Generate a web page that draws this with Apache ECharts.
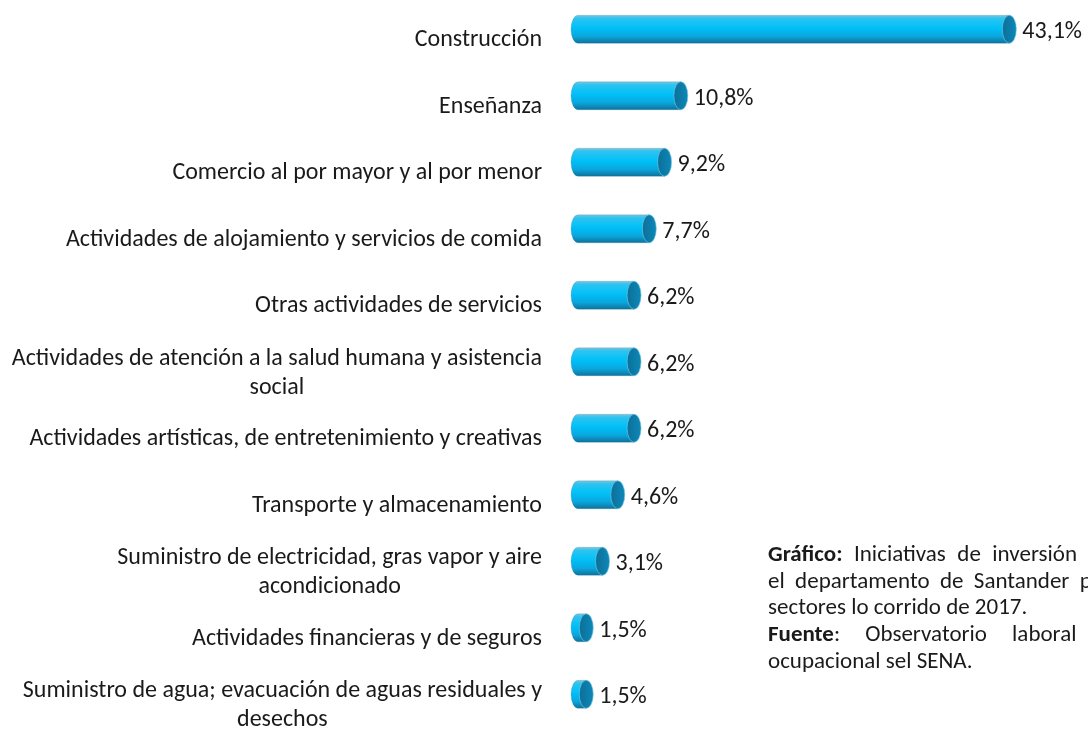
<!DOCTYPE html>
<html><head><meta charset="utf-8">
<script src="https://cdn.jsdelivr.net/npm/echarts@6/dist/echarts.min.js"></script>
<style>html,body{margin:0;padding:0;background:#fff;overflow:hidden}#c{width:1088px;height:732px}</style>
</head><body><div id="c"></div>
<script>
const categories = [
  "Construcción",
  "Enseñanza",
  "Comercio al por mayor y al por menor",
  "Actividades de alojamiento y servicios de comida",
  "Otras actividades de servicios",
  "Actividades de atención a la salud humana y asistencia\nsocial",
  "Actividades artísticas, de entretenimiento y creativas",
  "Transporte y almacenamiento",
  "Suministro de electricidad, gras vapor y aire\nacondicionado",
  "Actividades financieras y de seguros",
  "Suministro de agua; evacuación de aguas residuales y\ndesechos"
];
const values = [43.1, 10.8, 9.2, 7.7, 6.2, 6.2, 6.2, 4.6, 3.1, 1.5, 1.5];
const captionLines = [
  {justify:true, words:[{t:"Gráfico:", b:true}, {t:"Iniciativas"}, {t:"de"}, {t:"inversión"}, {t:"en"}]},
  {justify:true, words:[{t:"el"}, {t:"departamento"}, {t:"de"}, {t:"Santander"}, {t:"por"}]},
  {justify:false, words:[{t:"sectores lo corrido de 2017."}]},
  {justify:true, words:[{t:"Fuente", b:true, tail:":"}, {t:"Observatorio"}, {t:"laboral"}, {t:"y"}]},
  {justify:false, words:[{t:"ocupacional sel SENA."}]}
];

const FONT = 'Carlito, Lato, "Liberation Sans", sans-serif';
const FS = 24;
const CFS = 23;
const chart = echarts.init(document.getElementById('c'), null, {renderer:'canvas'});
const fmt = v => v.toFixed(1).replace('.', ',') + '%';

function renderItem(params, api){
  const v = api.value(0), cat = api.value(1);
  const s = api.coord([0, cat]);
  const e = api.coord([v, cat]);
  const h = 28, rx = 7;
  const cy = s[1] - 4;
  const y0 = cy - h/2, y1 = cy + h/2;
  const x0 = s[0], x1 = e[0];
  const bodyPath = `M${x0+rx},${y0} L${x1},${y0} L${x1},${y1} L${x0+rx},${y1} A${rx},${h/2} 0 0 1 ${x0+rx},${y0} Z`;
  const capPath = `M${x1},${y0} A${rx},${h/2} 0 0 1 ${x1},${y1} A${rx},${h/2} 0 0 1 ${x1},${y0} Z`;
  const bodyGrad = new echarts.graphic.LinearGradient(0,0,0,1,[
    {offset:0, color:'#86c3d8'},
    {offset:0.12, color:'#2cc4f0'},
    {offset:0.45, color:'#00c0f8'},
    {offset:0.75, color:'#0aa6dc'},
    {offset:1, color:'#0e6f97'}
  ]);
  const capGrad = new echarts.graphic.LinearGradient(0,0,1,0,[
    {offset:0, color:'#0b6f98'},
    {offset:1, color:'#0e88b8'}
  ]);
  return {
    type:'group',
    children:[
      {type:'path', shape:{pathData: bodyPath}, style:{fill: bodyGrad, stroke:'rgba(40,120,160,0.35)', lineWidth:0.6}},
      {type:'path', shape:{pathData: capPath}, style:{fill: capGrad, stroke:'rgba(120,200,230,0.8)', lineWidth:0.8}},
      {type:'text', x: x1 + rx + 6, y: cy + 3, style:{text: fmt(v), fill:'#1a1a1a', fontSize: FS, fontFamily: FONT, verticalAlign:'middle', align:'left'}}
    ]
  };
}

// caption layout (justified paragraph, clipped at the window edge)
const ctx = document.createElement('canvas').getContext('2d');
function tw(str, bold){ ctx.font = (bold ? 'bold ' : '') + CFS + 'px ' + FONT; return ctx.measureText(str).width; }
const PX = 768, PR = 1112;
const lineY = [555, 582, 608, 635, 662];
const graphics = [];
captionLines.forEach((ln, i) => {
  const widths = ln.words.map(w => tw(w.t, w.b) + (w.tail ? tw(w.tail, false) : 0));
  const total = widths.reduce((a,b)=>a+b, 0);
  const gap = ln.justify && ln.words.length > 1 ? Math.max(6, (PR - PX - total) / (ln.words.length - 1)) : 0;
  let x = PX;
  ln.words.forEach((w, j) => {
    const txt = w.b ? '{b|' + w.t + '}' + (w.tail ? '{n|' + w.tail + '}' : '') : '{n|' + w.t + '}';
    graphics.push({type:'text', x: x, y: lineY[i],
      style:{text: txt, verticalAlign:'middle', align:'left',
        rich:{b:{fontWeight:'bold', fontSize:CFS, fontFamily:FONT, fill:'#1a1a1a'},
              n:{fontSize:CFS, fontFamily:FONT, fill:'#1a1a1a'}}}});
    x += widths[j] + gap;
  });
});

chart.setOption({
  animation:false,
  grid:{left:571, top:-0.5, width:508.5, height:738.1, containLabel:false},
  xAxis:{type:'value', min:0, max:50, show:false},
  yAxis:{type:'category', inverse:true, data:categories,
    axisLine:{show:false}, axisTick:{show:false}, splitLine:{show:false},
    axisLabel:{margin:29, align:'right', color:'#1a1a1a', fontSize:FS, fontFamily:FONT,
      formatter: v => {
        const ls = v.split('\n');
        const sp = ls.length > 1 ? '{s2| }\n' : '{s1| }\n';
        return sp + ls.map(l => '{c|' + l + '}').join('\n');
      },
      rich:{
        c:{align:'center', fontSize:FS, fontFamily:FONT, color:'#1a1a1a', lineHeight:29},
        s1:{fontSize:1, lineHeight:14},
        s2:{fontSize:1, lineHeight:15}
      }}
  },
  series:[{type:'custom', renderItem, data: values.map((v,i)=>[v,i]), encode:{x:0, y:1}, clip:false}],
  graphic: graphics
});
</script></body></html>
